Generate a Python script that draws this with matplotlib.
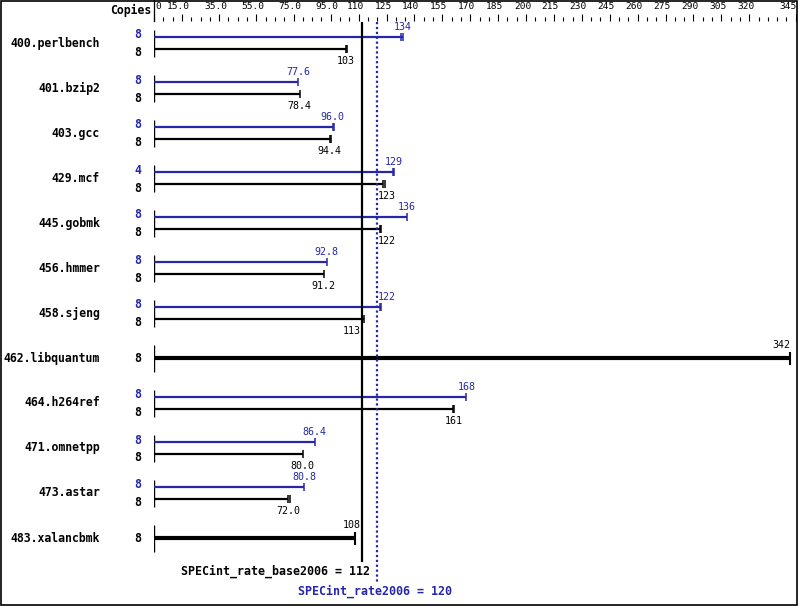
import matplotlib
matplotlib.use('Agg')
import matplotlib.pyplot as plt
from matplotlib.lines import Line2D
from matplotlib.patches import Rectangle
from matplotlib.transforms import ScaledTranslation
import numpy as np

# --- data ---
benchmarks = ['400.perlbench', '401.bzip2', '403.gcc', '429.mcf', '445.gobmk', '456.hmmer',
              '458.sjeng', '462.libquantum', '464.h264ref', '471.omnetpp', '473.astar',
              '483.xalancbmk']
base_copies = [8, 8, 8, 8, 8, 8, 8, 8, 8, 8, 8, 8]
peak_copies = [8, 8, 8, 4, 8, 8, 8, None, 8, 8, 8, None]
base_ratio = [103, 78.4, 94.4, 123, 122, 91.2, 113, 342, 161, 80.0, 72.0, 108]
peak_ratio = [134, 77.6, 96.0, 129, 136, 92.8, 122, None, 168, 86.4, 80.8, None]
base_text = ['103', '78.4', '94.4', '123', '122', '91.2', '113', '342', '161', '80.0', '72.0', '108']
peak_text = ['134', '77.6', '96.0', '129', '136', '92.8', '122', None, '168', '86.4', '80.8', None]
# second tick where the iterations spread a little (None = single tick)
base_alt = [104, None, 94.9, 124, 121.3, None, None, None, 161.5, None, 73, None]
peak_alt = [132.9, None, 96.6, 128.3, None, None, 121.4, None, None, None, None, None]

base_score = 112
peak_score = 120
base_score_text = 'SPECint_rate_base2006 = 112'
peak_score_text = 'SPECint_rate2006 = 120'

tick_vals = [0, 15, 35, 55, 75, 95, 110, 125, 140, 155, 170, 185, 200, 215, 230,
             245, 260, 275, 290, 305, 320, 345]
tick_labels = ['0', '15.0', '35.0', '55.0', '75.0', '95.0', '110', '125', '140', '155',
               '170', '185', '200', '215', '230', '245', '260', '275', '290', '305',
               '320', '345']

BLUE = '#2626a8'
BLACK = '#000000'
MONO = 'DejaVu Sans Mono'

W, H = 799, 606
fig = plt.figure(figsize=(W / 100, H / 100), dpi=100)

# axes geometry in pixels
ax_left, ax_right, ax_top, ax_bot = 154, 797, 21, 604
px_per_unit = 1.86
row0, row_step = 43, 45
ax = fig.add_axes([ax_left / W, (H - ax_bot) / H, (ax_right - ax_left) / W, (ax_bot - ax_top) / H])
xmax = (ax_right - ax_left) / px_per_unit
ax.set_xlim(0, xmax)
ax.set_ylim((ax_bot - row0) / row_step, (ax_top - row0) / row_step)
for s in ax.spines.values():
    s.set_visible(False)

px = 1 / px_per_unit       # one pixel in x data units
py = 1 / row_step          # one pixel in y data units

# top scale
ax.xaxis.tick_top()
ax.set_xticks(tick_vals, labels=tick_labels)
ax.set_xticks(np.arange(0, 346, 5), minor=True)
ax.tick_params(axis='x', which='major', direction='out', length=5, width=0.8,
               pad=2.5, labelsize=6.8)
ax.tick_params(axis='x', which='minor', direction='out', length=2.8, width=0.8)
# the labels sit a few pixels left of their ticks, first and last pushed inward
for k, lab in enumerate(ax.get_xticklabels()):
    lab.set_family(MONO)
    shift = -3.5
    if k == 0:
        shift = 4.5
    elif k == len(tick_vals) - 1:
        shift = -8
    lab.set_transform(lab.get_transform() + ScaledTranslation(shift / 100, 0, fig.dpi_scale_trans))
ax.set_yticks([])
ax.text(-2.5 * px, (10 - row0) / row_step, 'Copies', ha='right', va='center',
        family=MONO, fontweight='bold', fontsize=8.3, clip_on=False)


def cap(x, y, half, color, lw):
    ax.vlines(x, y - half, y + half, colors=color, lw=lw)


def value_label(v, txt, y, color):
    w = len(txt) * 6 * px
    lo, hi = v - w / 2, v + w / 2
    ha, x = 'center', v
    if hi > xmax:
        ha, x = 'right', v
    elif lo < peak_score < hi and v >= peak_score:
        ha, x = 'left', peak_score + 1 * px
    elif lo < base_score < hi or lo < peak_score < hi:
        ha, x = 'right', base_score - 2 * px
    ax.text(x, y, txt, ha=ha, va='center', color=color, family=MONO, fontsize=7.2)


for i, name in enumerate(benchmarks):
    yc = i
    ax.text(-29, yc, name, ha='right', va='center', family=MONO, fontweight='bold',
            fontsize=8.3, clip_on=False)
    # start line of the bars
    ax.vlines(0, yc - 13 * py, yc + 14 * py, colors=BLACK, lw=1.0)
    if peak_ratio[i] is None:
        # base and peak equal: one thick bar
        ax.hlines(yc, 0, base_ratio[i], colors=BLACK, lw=3.0)
        cap(base_ratio[i], yc, 6.5 * py, BLACK, 1.5)
        ax.text(-7, yc, str(base_copies[i]), ha='right', va='center', family=MONO,
                fontweight='bold', fontsize=8.3, clip_on=False)
        value_label(base_ratio[i], base_text[i], yc - 12.5 * py, BLACK)
        continue
    yp = yc - 6 * py
    yb = yc + 6 * py
    ax.hlines(yp, 0, peak_ratio[i], colors=BLUE, lw=1.6)
    cap(peak_ratio[i], yp, 4 * py, BLUE, 1.1)
    if peak_alt[i] is not None:
        cap(peak_alt[i], yp, 4 * py, BLUE, 1.1)
    ax.hlines(yb, 0, base_ratio[i], colors=BLACK, lw=1.6)
    cap(base_ratio[i], yb, 4 * py, BLACK, 1.1)
    if base_alt[i] is not None:
        cap(base_alt[i], yb, 4 * py, BLACK, 1.1)
    ax.text(-7, yc - 8 * py, str(peak_copies[i]), ha='right', va='center', family=MONO,
            fontweight='bold', fontsize=8.3, color=BLUE, clip_on=False)
    ax.text(-7, yc + 10 * py, str(base_copies[i]), ha='right', va='center', family=MONO,
            fontweight='bold', fontsize=8.3, color=BLACK, clip_on=False)
    value_label(peak_ratio[i], peak_text[i], yp - 10 * py, BLUE)
    value_label(base_ratio[i], base_text[i], yb + 12 * py, BLACK)

# overall score lines
ax.vlines(base_score, (22 - row0) / row_step, (562 - row0) / row_step, colors=BLACK, lw=1.6)
ax.vlines(peak_score, (22 - row0) / row_step, (583 - row0) / row_step, colors=BLUE, lw=1.6,
          linestyles=(0, (1, 1.2)))
ax.text(base_score + 8 * px, (571 - row0) / row_step, base_score_text, ha='right', va='center',
        family=MONO, fontweight='bold', fontsize=8.4)
ax.text(peak_score - 2 * px, (591 - row0) / row_step, peak_score_text, ha='center', va='center',
        family=MONO, fontweight='bold', fontsize=8.4, color=BLUE)

# frame and the separator next to "Copies"
fig.add_artist(Rectangle((0.6 / W, 1.5 / H), 796.5 / W, 603.5 / H, transform=fig.transFigure,
                         fill=False, edgecolor=BLACK, lw=1.2))
fig.add_artist(Line2D([153.5 / W, 153.5 / W], [1 - 21 / H, 1], transform=fig.transFigure,
                      color=BLACK, lw=0.9))

fig.savefig('out.png', dpi=100)
